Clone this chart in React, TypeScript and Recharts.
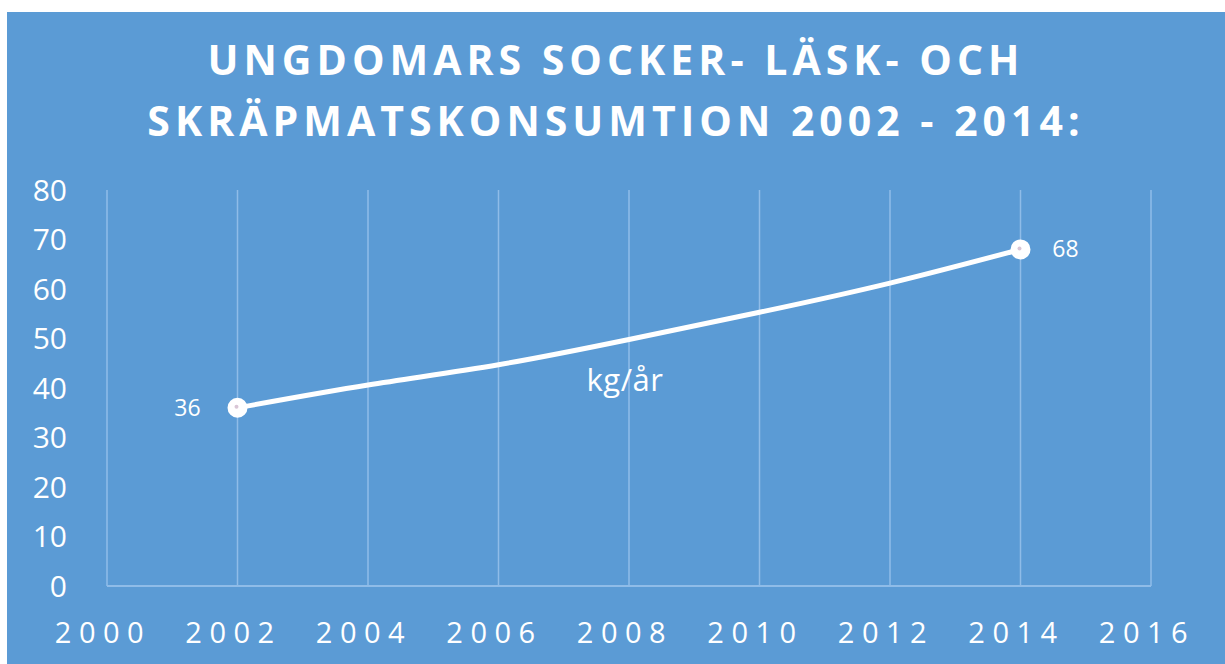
import React from "react";
import { LineChart, Line, XAxis, YAxis, CartesianGrid, LabelList } from "recharts";

const titleLines = ["UNGDOMARS SOCKER- LÄSK- OCH", "SKRÄPMATSKONSUMTION 2002 - 2014:"];
const years = [2002, 2004, 2006, 2008, 2010, 2012, 2014];
const values = [36, 40.6, 44.7, 49.8, 55.3, 61.2, 68];
const valueLabels = ["36", "", "", "", "", "", "68"];
const seriesNameAt = [false, false, false, true, false, false, false];
const seriesName = "kg/år";
const xTicks = [2000, 2002, 2004, 2006, 2008, 2010, 2012, 2014, 2016];
const yTicks = [0, 10, 20, 30, 40, 50, 60, 70, 80];

const data = years.map((y, i) => ({
  year: y,
  value: values[i],
  label: valueLabels[i],
  name: seriesNameAt[i] ? seriesName : "",
}));

const BG = "#5B9BD5";
const GRID = "#8FBCE8";
const FONT = "'Open Sans', 'Liberation Sans', sans-serif";

const renderDot = (props: any) => {
  const { cx, cy, index } = props;
  if (!data[index] || !data[index].label) return <g key={`d${index}`} />;
  return (
    <g key={`d${index}`}>
      <circle cx={cx} cy={cy} r={9} fill="#ffffff" stroke="#ffffff" strokeWidth={2} />
      <circle cx={cx - 1} cy={cy - 1} r={2} fill="#d9c6d6" />
    </g>
  );
};

const renderValueLabel = (props: any) => {
  const { x, y, value, index } = props;
  if (!value) return null;
  const left = index === 0;
  return (
    <text
      x={left ? x - 50 : x + 45}
      y={y}
      dy="0.35em"
      textAnchor="middle"
      fill="#ffffff"
      fontSize={23}
      fontFamily={FONT}
    >
      {value}
    </text>
  );
};

const renderNameLabel = (props: any) => {
  const { x, y, value } = props;
  if (!value) return null;
  return (
    <text x={x - 4} y={y + 41} dy="0.35em" textAnchor="middle" fill="#ffffff" fontSize={31} fontFamily={FONT} letterSpacing={0.5}>
      {value}
    </text>
  );
};

export default function App() {
  return (
    <div style={{ position: "absolute", left: 0, top: 0, width: 1225, height: 664, background: "#ffffff", overflow: "hidden" }}>
      <div style={{ position: "absolute", left: 7, top: 12, width: 1218, height: 652, background: BG }}>
        <div
          style={{
            position: "absolute",
            left: 0,
            top: 17,
            width: 1218,
            textAlign: "center",
            color: "#ffffff",
            fontFamily: FONT,
            fontWeight: 700,
            fontSize: 41,
            lineHeight: "61px",
            letterSpacing: 5,
          }}
        >
          {titleLines.map((t) => (
            <div key={t}>{t}</div>
          ))}
        </div>
        <div style={{ position: "absolute", left: 0, top: 0 }}>
          <LineChart width={1218} height={652} data={data} margin={{ top: 178, right: 74, left: 0, bottom: 0 }}>
            <CartesianGrid vertical={true} horizontal={false} stroke={GRID} strokeWidth={1.5} />
            <XAxis
              dataKey="year"
              type="number"
              domain={[2000, 2016]}
              ticks={xTicks}
              height={78}
              axisLine={{ stroke: GRID, strokeWidth: 2 }}
              tickLine={false}
              tickSize={0}
              tickMargin={36}
              tick={{ fill: "#ffffff", fontSize: 29, fontFamily: FONT, letterSpacing: 7.5, dx: -4 }}
              interval={0}
            />
            <YAxis
              type="number"
              domain={[0, 80]}
              ticks={yTicks}
              width={100}
              axisLine={false}
              tickLine={false}
              tickSize={0}
              tickMargin={40}
              tick={{ fill: "#ffffff", fontSize: 30, fontFamily: FONT }}
              interval={0}
            />
            <Line
              dataKey="value"
              type="natural"
              stroke="#ffffff"
              strokeWidth={5}
              dot={renderDot}
              activeDot={false}
              isAnimationActive={false}
            >
              <LabelList dataKey="label" content={renderValueLabel} />
              <LabelList dataKey="name" content={renderNameLabel} />
            </Line>
          </LineChart>
        </div>
      </div>
    </div>
  );
}
